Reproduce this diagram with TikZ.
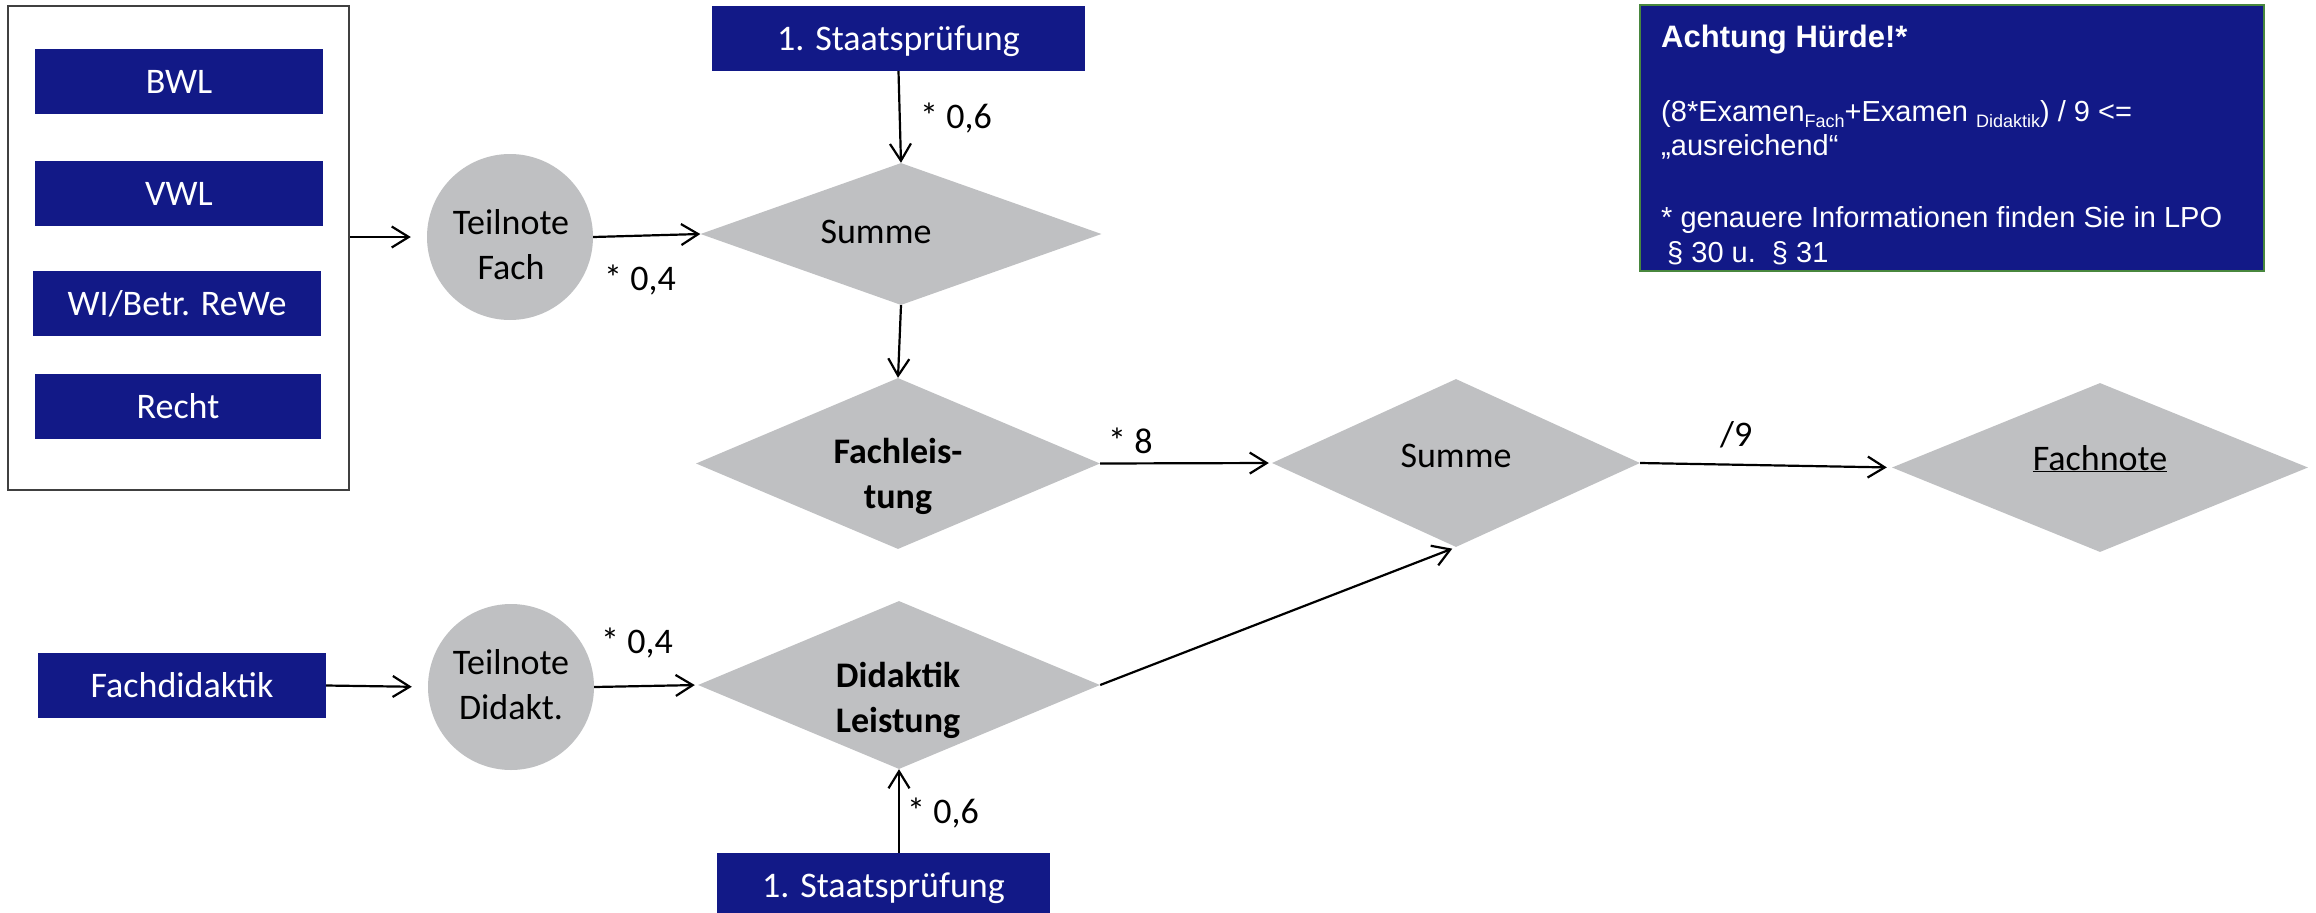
\documentclass[tikz,border=0pt]{standalone}
\usepackage{fontspec}
\setmainfont{Carlito}
\newfontfamily\arialf{Liberation Sans}
\usetikzlibrary{arrows.meta,shapes.geometric,calc}
\definecolor{navy}{RGB}{18,25,135}
\definecolor{shapegray}{RGB}{191,192,194}
\definecolor{boxgreen}{RGB}{72,135,62}
\definecolor{framegray}{RGB}{64,64,64}
\newcommand\wsub[1]{\raisebox{-6pt}{\fontsize{18}{18}\selectfont #1}}
\begin{document}
\begin{tikzpicture}[x=1pt,y=-1pt,
  font=\fontsize{36}{44.5}\selectfont,
  bluebox/.style={fill=navy, text=white, inner sep=0, minimum height=65pt, text height=23pt, text depth=0pt},
  circ/.style={circle, fill=shapegray, minimum size=166pt, inner sep=0},
  dia/.style={diamond, fill=shapegray, inner sep=0},
  arr/.style={line width=2.2pt, -{Straight Barb[length=17pt,width=21pt]}},
  lbl/.style={anchor=base west, inner sep=0},
  txt/.style={anchor=base, align=center, inner sep=0},
  wt/.style={anchor=base west, inner sep=0, text=white, font=\arialf\fontsize{29}{35}\selectfont},
]
\useasboundingbox (0,0) rectangle (2316,913);

% left group
\node[draw=framegray, line width=2.5pt, minimum width=341pt, minimum height=484pt, inner sep=0] (grp) at (178.5,248) {};
\node[bluebox, minimum width=288pt] (bwl) at (179,81.5) {BWL};
\node[bluebox, minimum width=288pt] (vwl) at (179,193.5) {VWL};
\node[bluebox, minimum width=288pt] (wi) at (177,303.5) {WI/Betr. ReWe};
\node[bluebox, minimum width=286pt] (recht) at (178,406.5) {Recht};

% other blue boxes
\node[bluebox, minimum width=373pt] (st1) at (898.5,38.5) {1. Staatsprüfung};
\node[bluebox, minimum width=333pt] (st2) at (883.5,885.5) {1. Staatsprüfung};
\node[bluebox, minimum width=288pt] (fd) at (182,685.5) {Fachdidaktik};

% circles
\node[circ] (tf) at (510,237) {};
\node[txt] (tf-t) at (511,279) {Teilnote\\Fach};
\node[circ] (td) at (511,687) {};
\node[txt] (td-t) at (511,719) {Teilnote\\Didakt.};

% diamonds
\node[dia, minimum width=401pt, minimum height=142pt] (sum1) at (901,234) {};
\node[txt] (sum1-t) at (876,243) {Summe};
\node[dia, minimum width=404pt, minimum height=171pt] (fl) at (898,463.5) {};
\node[txt, font=\bfseries\fontsize{36}{45}\selectfont] (fl-t) at (898,508) {Fachleis-\\tung};
\node[dia, minimum width=402pt, minimum height=168pt] (dl) at (899,685) {};
\node[txt, font=\bfseries\fontsize{36}{45}\selectfont] (dl-t) at (898,732) {Didaktik\\Leistung};
\node[dia, minimum width=368pt, minimum height=168pt] (sum2) at (1456,463) {};
\node[txt] (sum2-t) at (1456,467) {Summe};
\node[dia, minimum width=416pt, minimum height=169pt] (fn) at (2100,467.5) {};
\node[txt] (fn-t) at (2100,470) {\underline{Fachnote}};

% connectors
\draw[arr, shorten >=16pt] (grp.east |- tf) -- (tf.west);
\draw[arr] (tf.east) -- (sum1.west);
\draw[arr] (st1.south) -- (sum1.north);
\draw[arr] (sum1.south) -- (fl.north);
\draw[arr, shorten >=3pt] (fl.east) -- (sum2.west);
\draw[arr, shorten >=5pt] (sum2.east) -- (fn.west);
\draw[arr, shorten >=16pt] (fd.east) -- (td.west);
\draw[arr, shorten >=3pt] (td.east) -- (dl.west);
\draw[arr] (dl.south |- st2.north) -- (dl.south);
\draw[arr, shorten >=4pt] (dl.east) -- (sum2.south);

% labels
\node[lbl] (l1) at (604,290) {* 0,4};
\node[lbl] (l2) at (920,128) {* 0,6};
\node[lbl] (l3) at (1108,453) {* 8};
\node[lbl] (l4) at (1720,446) {/9};
\node[lbl] (l5) at (601,653) {* 0,4};
\node[lbl] (l6) at (907,823) {* 0,6};

% warning box
\node[fill=navy, draw=boxgreen, line width=2pt, minimum width=624pt, minimum height=266pt, inner sep=0] (warn) at (1952,138) {};
\node[wt, font=\arialf\bfseries\fontsize{31}{36}\selectfont] (w1) at (1661,47) {Achtung Hürde!*};
\node[wt] (w2) at (1661,121) {(8*Examen\wsub{Fach}+Examen \wsub{Didaktik}) / 9 <=};
\node[wt] (w3) at (1661,155) {„ausreichend“};
\node[wt] (w4) at (1661,227) {* genauere Informationen finden Sie in LPO};
\node[wt] (w5) at (1667,262) {§ 30 u.\ \ § 31};
\end{tikzpicture}
\end{document}
